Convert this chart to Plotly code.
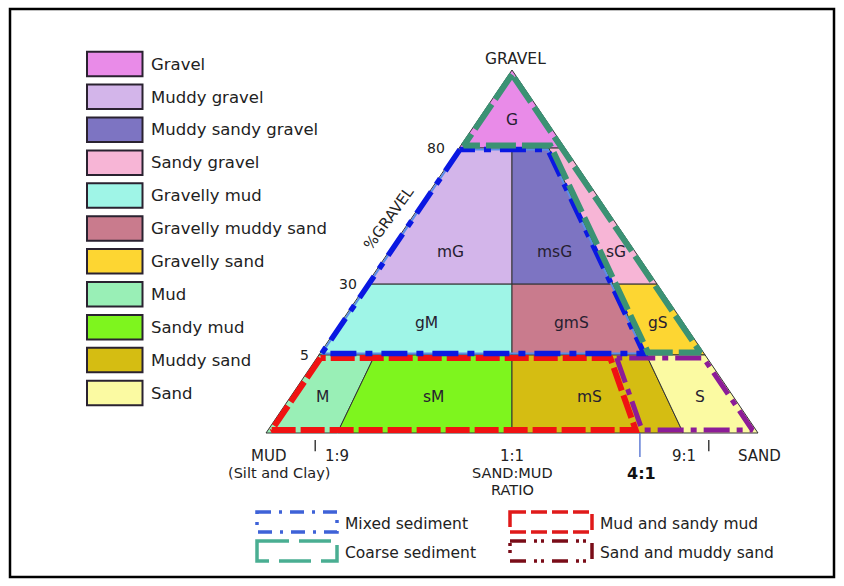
import numpy as np
import plotly.graph_objects as go

# ---------------- data ----------------
CLASS_CODES = ["G", "mG", "msG", "sG", "gM", "gmS", "gS", "M", "sM", "mS", "S"]
CLASS_NAMES = ["Gravel", "Muddy gravel", "Muddy sandy gravel", "Sandy gravel",
               "Gravelly mud", "Gravelly muddy sand", "Gravelly sand", "Mud",
               "Sandy mud", "Muddy sand", "Sand"]
CLASS_COLORS = ["#e98be8", "#d3b5ea", "#7d74c2", "#f7b5d6", "#9ff5e7", "#c97b8d",
                "#fdd632", "#99efb6", "#7ef51e", "#d5bd12", "#fbfaa2"]
# sand fraction of the sand+mud part (as drawn) and % gravel limits of each class
SAND_LO = [0.0, 0.0, 0.5, 0.848, 0.0, 0.5, 0.848, 0.0, 0.145, 0.5, 0.848]
SAND_HI = [1.0, 0.5, 0.848, 1.0, 0.5, 0.848, 1.0, 0.145, 0.5, 0.848, 1.0]
GRAV_LO = [80, 30, 30, 30, 5, 5, 5, 0, 0, 0, 0]
GRAV_HI = [100, 80, 80, 80, 30, 30, 30, 5, 5, 5, 5]

GRAVEL_TICKS = [80, 30, 5]
RATIO_TICK_LABELS = ["1:9", "1:1", "4:1", "9:1"]
RATIO_TICK_SAND = [0.1, 0.5, 0.76, 0.9]

GROUP_NAMES = ["Mixed sediment", "Coarse sediment", "Mud and sandy mud", "Sand and muddy sand"]
GROUP_OUTLINES = [
    [(0, 80), (0, 5), (0.848, 5), (0.848, 80)],
    [(0.5, 100), (0, 80), (0.848, 80), (0.848, 5), (1, 5)],
    [(0, 5), (0, 0), (0.76, 0), (0.76, 5)],
    [(0.76, 5), (0.76, 0), (1, 0), (1, 5)],
]

# ---------------- scales ----------------
W, H = 844, 586
PX_X, PX_Y = 492.0, 363.0          # pixels per diagram unit
APEX_PX, BASE_PY = 512.0, 433.0
GRAVEL_BREAKS = [0, 5, 30, 80, 100]
BREAK_HEIGHTS = [0, 0.215, 0.41, 0.785, 1.0]   # stretched %gravel axis of the diagram
FONT = "DejaVu Sans"


def to_xy(s, g):
    h = float(np.interp(g, GRAVEL_BREAKS, BREAK_HEIGHTS))
    return (s - 0.5) * (1 - h), h


def inset(poly, d):
    P = np.array([to_xy(s, g) for s, g in poly]) * [PX_X, PX_Y]
    n = len(P)
    lines = []
    for i in range(n):
        a, b = P[i], P[(i + 1) % n]
        dv = (b - a) / np.linalg.norm(b - a)
        nv = np.array([-dv[1], dv[0]])
        lines.append((a + nv * d, dv))
    out = []
    for i in range(n):
        p1, d1 = lines[i - 1]
        p2, d2 = lines[i]
        A = np.array([d1, -d2]).T
        t, _ = np.linalg.solve(A, p2 - p1)
        out.append(p1 + t * d1)
    out.append(out[0])
    out = np.array(out) / [PX_X, PX_Y]
    return out[:, 0], out[:, 1]


def px(x):
    return x / W


def py(y):
    return 1 - y / H


fig = go.Figure()

# class regions
for i, code in enumerate(CLASS_CODES):
    corners = [(SAND_LO[i], GRAV_LO[i]), (SAND_HI[i], GRAV_LO[i]),
               (SAND_HI[i], GRAV_HI[i]), (SAND_LO[i], GRAV_HI[i]), (SAND_LO[i], GRAV_LO[i])]
    xy = [to_xy(s, g) for s, g in corners]
    fig.add_trace(go.Scatter(x=[p[0] for p in xy], y=[p[1] for p in xy], mode="lines",
                             fill="toself", fillcolor=CLASS_COLORS[i],
                             line=dict(color="#333333", width=1), hoverinfo="text",
                             text=CLASS_NAMES[i], showlegend=False))

# group outlines
styles = {
    "Mud and sandy mud": [dict(color="#f01212", width=6, dash="24px,5px")],
    "Sand and muddy sand": [dict(color="#8c1c98", width=5, dash="26px,7px,6px,7px")],
    "Mixed sediment": [dict(color="#5b8de8", width=2, dash="solid"),
                       dict(color="#0a18e2", width=5.5, dash="26px,9px,7px,9px")],
    "Coarse sediment": [dict(color="#3b9274", width=6, dash="30px,6px")],
}
insets = {"Mud and sandy mud": 3, "Sand and muddy sand": 3, "Mixed sediment": 1.5, "Coarse sediment": 2.5}
for name in ["Mud and sandy mud", "Sand and muddy sand", "Mixed sediment", "Coarse sediment"]:
    k = GROUP_NAMES.index(name)
    xs, ys = inset(GROUP_OUTLINES[k], insets[name])
    for st in styles[name]:
        fig.add_trace(go.Scatter(x=xs, y=ys, mode="lines", line=st, hoverinfo="skip",
                                 showlegend=False))

# ratio ticks under the base
tick_len = {"1:9": (-0.019, -0.05), "9:1": (-0.019, -0.05), "4:1": (0.0, -0.066)}
for lab, s in zip(RATIO_TICK_LABELS, RATIO_TICK_SAND):
    if lab in tick_len:
        x0, _ = to_xy(s, 0)
        y0, y1 = tick_len[lab]
        fig.add_trace(go.Scatter(x=[x0, x0], y=[y0, y1], mode="lines",
                                 line=dict(color="#4a6ad0" if lab == "4:1" else "#222222", width=1.3),
                                 hoverinfo="skip", showlegend=False))

ann = []


def data_ann(x, y, text, size, color="#222222", **kw):
    d = dict(x=x, y=y, xref="x", yref="y", text=text, showarrow=False,
             yanchor="middle", font=dict(family=FONT, size=size, color=color))
    d.setdefault("xanchor", "center")
    d.update(kw)
    ann.append(d)


# class codes inside the diagram
band_label_gravel = {80: 87.2, 30: 42, 5: 16.2, 0: 2.3}
for i, code in enumerate(CLASS_CODES):
    x, y = to_xy((SAND_LO[i] + SAND_HI[i]) / 2, band_label_gravel[GRAV_LO[i]])
    data_ann(x, y, code, 15.5, color="#262030")

# gravel axis labels
for g in GRAVEL_TICKS:
    x, y = to_xy(0, g)
    data_ann(x, y, str(g), 14, xanchor="right", xshift=-12 if g == 80 else -8)
x, y = to_xy(0, 55)
data_ann(x, y, "%GRAVEL", 15, textangle=-54, xshift=-24, yshift=-2)
x, y = to_xy(0.5, 100)
data_ann(x, y, "GRAVEL", 15.5, xshift=3, yshift=11)

# base labels
bx0, _ = to_xy(0, 0)
bx1, _ = to_xy(1, 0)
R1, R2 = 15, 14.5
data_ann(bx0, 0, "MUD", R1, yshift=-22.5, xshift=2)
data_ann(bx0, 0, "(Silt and Clay)", R2, yshift=-40, xshift=13)
data_ann(bx1, 0, "SAND", R1, yshift=-22.5, xshift=1)
for lab, s in zip(RATIO_TICK_LABELS, RATIO_TICK_SAND):
    x, _ = to_xy(s, 0)
    if lab == "1:9":
        data_ann(x, 0, lab, R1, yshift=-22.5, xanchor="left", xshift=8)
    elif lab == "9:1":
        data_ann(x, 0, lab, R1, yshift=-22.5, xanchor="right", xshift=-11)
    elif lab == "1:1":
        data_ann(x, 0, lab, R1, yshift=-22.5)
        data_ann(x, 0, "SAND:MUD", R2, yshift=-40)
        data_ann(x, 0, "RATIO", R2, yshift=-57)
    else:
        data_ann(x, 0, "<b>" + lab + "</b>", 16, color="#111111", yshift=-40, xshift=2)

shapes = []
# class legend
for i, name in enumerate(CLASS_NAMES):
    top = 51.7 + 32.9 * i
    shapes.append(dict(type="rect", xref="paper", yref="paper",
                       x0=px(87), x1=px(142.5), y0=py(top), y1=py(top + 24.5),
                       fillcolor=CLASS_COLORS[i], line=dict(color="#2a2230", width=2)))
    ann.append(dict(x=px(149), y=py(top + 12.5), xref="paper", yref="paper", text=name,
                    showarrow=False, xanchor="left", yanchor="middle",
                    font=dict(family=FONT, size=16.5, color="#222222")))

# outline-style legend
leg_styles = [dict(color="#3e62d8", width=3.5, dash="14px,8px,3px,8px"),
              dict(color="#4aae92", width=3.5, dash="32px,10px"),
              dict(color="#e01a1a", width=3.5, dash="16px,5px"),
              dict(color="#7a0c18", width=3.5, dash="16px,8px,3px,4px,3px,8px")]
leg_pos = [(257, 337, 512), (257, 337, 541), (510, 592, 512), (510, 592, 541)]
for name, st, (x0, x1, y0) in zip(GROUP_NAMES, leg_styles, leg_pos):
    shapes.append(dict(type="rect", xref="paper", yref="paper", x0=px(x0), x1=px(x1),
                       y0=py(y0), y1=py(y0 + 20), line=st))
    ann.append(dict(x=px(x1 + 6), y=py(y0 + 12), xref="paper", yref="paper", text=name,
                    showarrow=False, xanchor="left", yanchor="middle",
                    font=dict(family=FONT, size=15.5, color="#222222")))

# outer frame
shapes.append(dict(type="rect", xref="paper", yref="paper", x0=px(10), x1=px(834),
                   y0=py(9), y1=py(577), line=dict(color="#000000", width=2.5)))

fig.update_layout(
    width=W, height=H, autosize=False,
    margin=dict(l=0, r=0, t=0, b=0, pad=0),
    paper_bgcolor="white", plot_bgcolor="white",
    xaxis=dict(range=[-APEX_PX / PX_X, (W - APEX_PX) / PX_X], visible=False, fixedrange=True),
    yaxis=dict(range=[-(H - BASE_PY) / PX_Y, BASE_PY / PX_Y], visible=False, fixedrange=True),
    showlegend=False, shapes=shapes, annotations=ann,
)
fig.write_html("out.html", post_script="document.body.style.margin='0';",
               config={"displayModeBar": False})
